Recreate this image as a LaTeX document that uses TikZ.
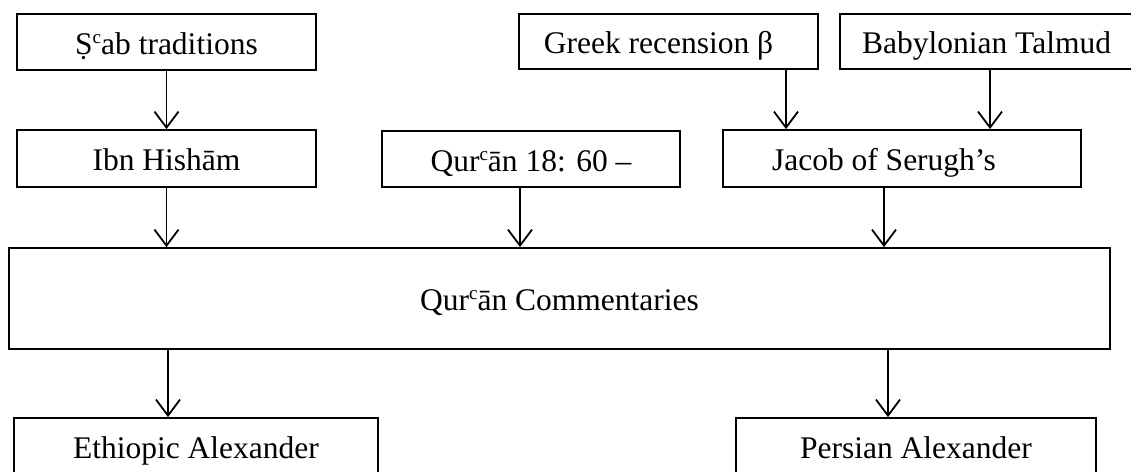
\documentclass[tikz,border=0pt]{standalone}
\usepackage{fontspec}
\setmainfont{Liberation Serif}
\usetikzlibrary{arrows.meta}
% raised letter c used in the transliterations
\newcommand\ayn{\raisebox{0.75ex}{\fontsize{19}{19}\selectfont c}}
\begin{document}
\begin{tikzpicture}[x=1pt,y=-1pt,
  box/.style={draw, line width=1.8pt, inner sep=0pt, anchor=center,
    text height=24pt, text depth=0pt,
    font=\fontsize{31.5}{36}\selectfont},
  link/.style={line width=1.8pt,
    -{Straight Barb[length=16pt,width=24pt,line width=1.8pt]}}]
\useasboundingbox (0,0) rectangle (1131,471);

% sources
\node[box, minimum width=299pt, minimum height=56pt] (sab) at (166.5,42)
  {Ṣ\ayn ab traditions};
\node[box, minimum width=299pt, minimum height=55pt] (greek) at (668.5,41.5)
  {Greek recension β\hspace*{20pt}};
\node[box, minimum width=293pt, minimum height=55pt] (talmud) at (986.5,41.5)
  {Babylonian Talmud};

% intermediate texts
\node[box, minimum width=299pt, minimum height=57pt] (ibn) at (166.5,158.5)
  {Ibn Hishām};
\node[box, minimum width=298pt, minimum height=56pt] (quran) at (531,159)
  {Qur\ayn ān 18: 60 –};
\node[box, minimum width=358pt, minimum height=57pt] (jacob) at (902,158.5)
  {Jacob of Serugh’s\hspace*{36pt}};

% commentaries
\node[box, minimum width=1101pt, minimum height=101pt] (comm) at (559.5,298.5)
  {Qur\ayn ān Commentaries};

% later versions
\node[box, minimum width=364pt, minimum height=56pt] (eth) at (196,446)
  {Ethiopic Alexander};
\node[box, minimum width=360pt, minimum height=56pt] (pers) at (916,446)
  {Persian Alexander};

% columns of the connectors
\coordinate (xg) at (786,0);
\coordinate (xt) at (990,0);
\coordinate (xq) at (520,0);
\coordinate (xj) at (884,0);
\coordinate (xe) at (168,0);
\coordinate (xp) at (888,0);

\draw[link] (sab) -- (ibn);
\draw[link] (greek.south -| xg) -- (jacob.north -| xg);
\draw[link] (talmud.south -| xt) -- (jacob.north -| xt);
\draw[link] (ibn) -- (ibn |- comm.north);
\draw[link] (quran.south -| xq) -- (comm.north -| xq);
\draw[link] (jacob.south -| xj) -- (comm.north -| xj);
\draw[link] (comm.south -| xe) -- (eth.north -| xe);
\draw[link] (comm.south -| xp) -- (pers.north -| xp);
\end{tikzpicture}
\end{document}
